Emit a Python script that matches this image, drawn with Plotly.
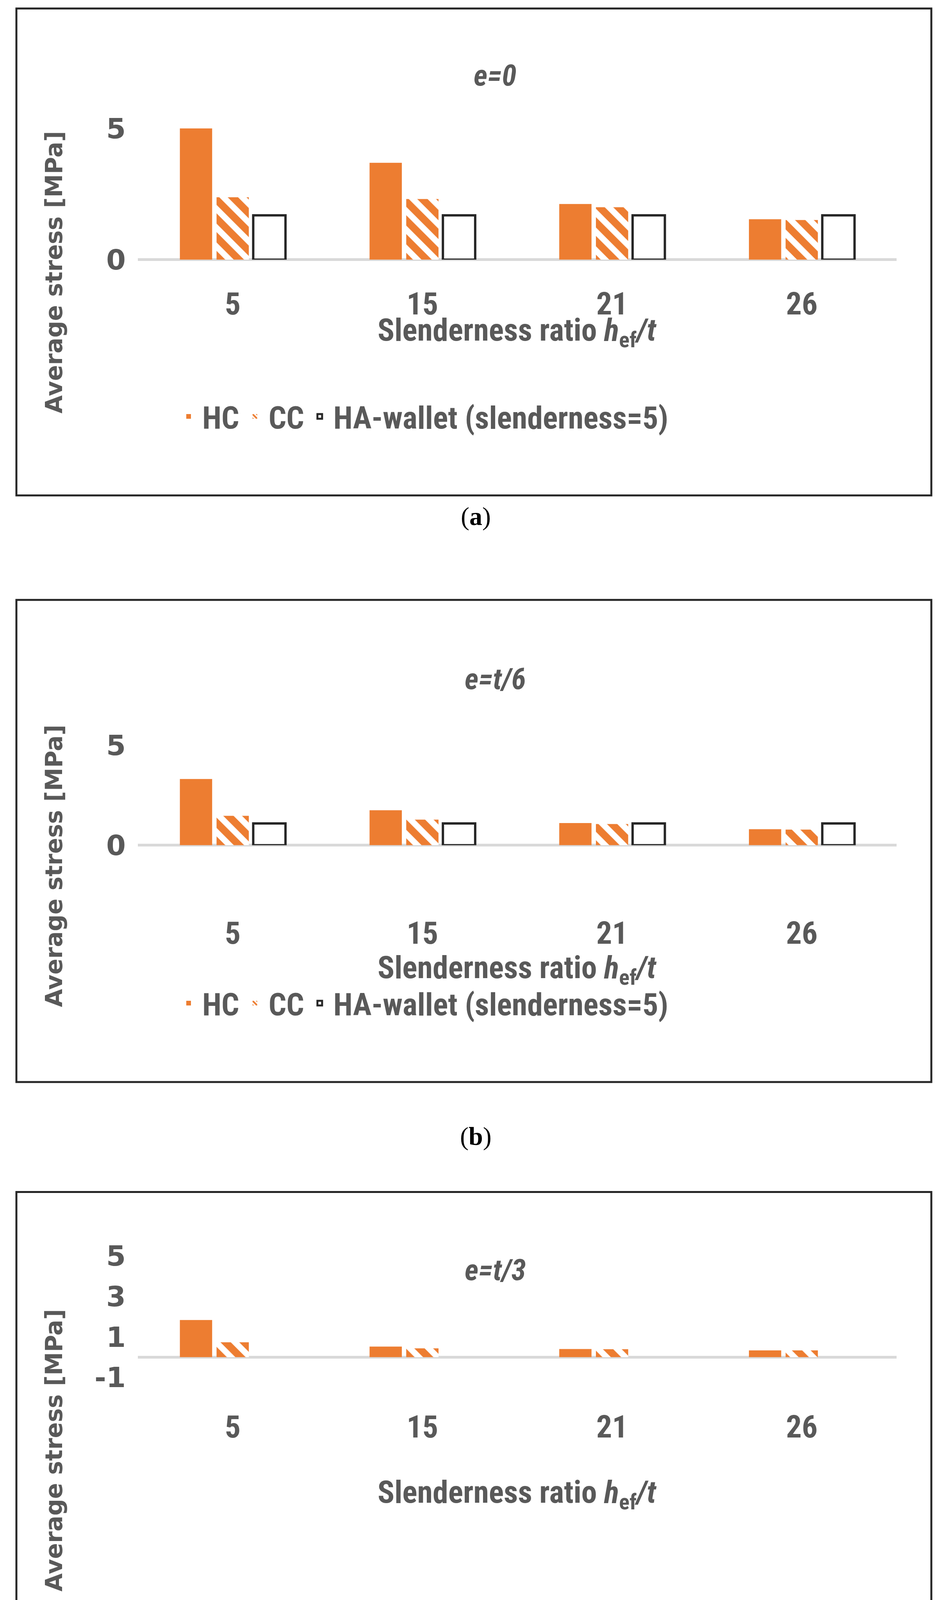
import plotly.graph_objects as go

W, H = 2420, 4511
categories = ["5", "15", "21", "26"]
titles = ["e=0", "e=t/6", "e=t/3"]
labels = ["a", "b", "c"]
hc_a = [5.0, 3.69, 2.12, 1.54]
cc_a = [2.38, 2.31, 2.0, 1.51]
ha_a = [1.69, 1.69, 1.69, 1.69]
hc_b = [3.31, 1.75, 1.11, 0.80]
cc_b = [1.47, 1.28, 1.06, 0.78]
ha_b = [1.09, 1.09, 1.09, 1.09]
hc_c = [1.83, 0.52, 0.40, 0.33]
cc_c = [0.73, 0.43, 0.39, 0.33]
ha_c = [0, 0, 0, 0]
yticks_ab = [0, 5]
yticks_c = [-1, 1, 3, 5]
yticktext_c = ["-1", "1", "3", "5"]

ORANGE = "#ED7D31"
GRAY = "#595959"
NARROW = "Liberation Sans Narrow, Roboto Condensed, Arial Narrow, sans-serif"

def py(px):
    return 1 - px / H

panels = [
    dict(hc=hc_a, cc=cc_a, ha=ha_a, ha_show=True, rng=[0, 6], ticks=yticks_ab, ticktext=None, stand=59,
         top=256, bottom=663, box=(14, 1272), title_y=187, xt_y=850, leg_y=1068, lab_y=1326, ytit=696),
    dict(hc=hc_b, cc=cc_b, ha=ha_b, ha_show=True, rng=[0, 6], ticks=yticks_ab, ticktext=None, stand=171,
         top=1866, bottom=2176, box=(1542, 2788), title_y=1746, xt_y=2498, leg_y=2584, lab_y=2928, ytit=2230),
    dict(hc=hc_c, cc=cc_c, ha=ha_c, ha_show=False, rng=[-1, 6], ticks=yticks_c, ticktext=yticktext_c, stand=73,
         top=3185, bottom=3551, box=(3072, 4330), title_y=3273, xt_y=3853, leg_y=4186, lab_y=4465, ytit=3740),
]

fig = go.Figure()
shapes, annotations = [], []
x0p, x1p = 345 / W, 2288 / W
for i, p in enumerate(panels):
    n = "" if i == 0 else str(i + 1)
    xa, ya, lg = "x" + n, "y" + n, "legend" + n
    fig.add_trace(go.Bar(x=categories, y=p["hc"], name="HC", marker=dict(color=ORANGE, line=dict(width=0)),
                         xaxis=xa, yaxis=ya, legend=lg))
    fig.add_trace(go.Bar(x=categories, y=p["cc"], name="CC", xaxis=xa, yaxis=ya, legend=lg,
                         marker=dict(color="white", line=dict(width=0),
                                     pattern=dict(shape="\\", fgcolor=ORANGE, fgopacity=1, bgcolor="white",
                                                  size=34, solidity=0.55))))
    fig.add_trace(go.Bar(x=categories, y=p["ha"], name="HA-wallet (slenderness=5)", xaxis=xa, yaxis=ya, legend=lg,
                         marker=dict(color="white", line=dict(width=6 if p["ha_show"] else 0, color="#262626"))))
    yax = dict(domain=[py(p["bottom"]), py(p["top"])],
               anchor=xa, range=p["rng"], tickvals=p["ticks"], showgrid=False, showline=False,
               zeroline=True, zerolinecolor="#D9D9D9", zerolinewidth=7,
               tickfont=dict(family="DejaVu Sans", size=72, color=GRAY, weight="bold"), ticklabelstandoff=30)
    if p["ticktext"]:
        yax["ticktext"] = p["ticktext"]
    fig.update_layout({
        "xaxis" + n: dict(domain=[x0p, x1p], anchor=ya, showline=False, showgrid=False, ticks="",
                          tickfont=dict(family=NARROW, size=80, color=GRAY, weight="bold"),
                          ticklabelstandoff=p["stand"]),
        "yaxis" + n: yax,
        lg: dict(orientation="h", x=440 / W, y=py(p["leg_y"]), xanchor="left", yanchor="middle",
                 font=dict(family=NARROW, size=80, color=GRAY, weight="bold"), bgcolor="rgba(0,0,0,0)",
                 itemwidth=60, tracegroupgap=0),
    })
    b0, b1 = p["box"]
    shapes.append(dict(type="rect", xref="paper", yref="paper", x0=34 / W, x1=2377 / W, y0=py(b1), y1=py(b0),
                       line=dict(color="#262626", width=5)))
    common = dict(xref="paper", yref="paper", showarrow=False, xanchor="center", yanchor="middle")
    annotations += [
        dict(text="<b><i>" + titles[i] + "</i></b>", x=0.5 + 50 / W, y=py(p["title_y"]),
             font=dict(family=NARROW, size=76, color=GRAY), **common),
        dict(text="<b>Slenderness ratio <i>h</i><sub>ef</sub><i>/t</i></b>", x=(345 + 2288) / 2 / W, y=py(p["xt_y"]),
             font=dict(family=NARROW, size=80, color=GRAY), **common),
        dict(text="<b>Average stress [MPa]</b>", textangle=-90, x=130 / W, y=py(p["ytit"]),
             font=dict(family="DejaVu Sans", size=60, color=GRAY), **common),
        dict(text="(<b>" + labels[i] + "</b>)", x=0.5, y=py(p["lab_y"]),
             font=dict(family="Liberation Serif", size=66, color="black"), **common),
    ]

fig.update_layout(width=W, height=H, margin=dict(l=0, r=0, t=0, b=0), barmode="group", bargap=0.42,
                  bargroupgap=0.12, plot_bgcolor="white", paper_bgcolor="white", showlegend=True,
                  shapes=shapes, annotations=annotations)
fig.write_html("out.html")
